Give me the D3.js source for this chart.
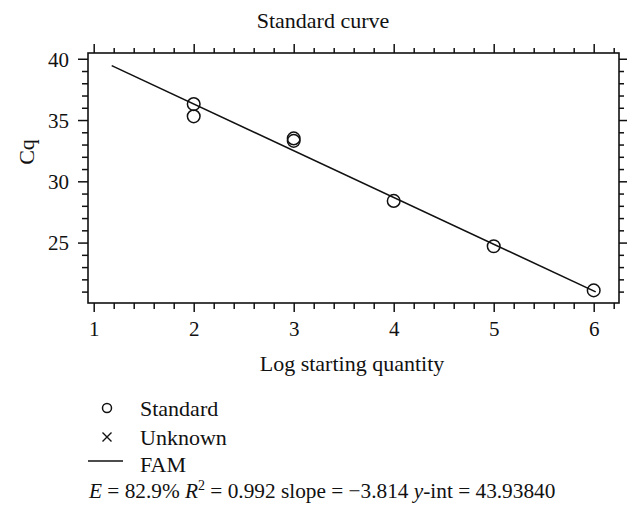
<!DOCTYPE html>
<html>
<head>
<meta charset="utf-8">
<script src="https://cdn.jsdelivr.net/npm/d3@7"></script>
<style>
  html, body { margin: 0; padding: 0; background: #fff; }
  svg { display: block; }
  text { font-family: "Liberation Serif", "Times New Roman", serif; fill: #111; }
</style>
</head>
<body>
<svg id="chart" width="642" height="524"></svg>
<script>
// ---- data ----
const chartTitle = "Standard curve";
const xLabel = "Log starting quantity";
const yLabel = "Cq";
const standardX = [2, 2, 3, 3, 4, 5, 6.0];
const standardY = [36.3, 35.3, 33.5, 33.3, 28.4, 24.7, 21.1];
const fitSlope = -3.814;
const fitIntercept = 43.93840;
const fitRangeX = [1.18, 6.02];
const xMajorTicks = [1, 2, 3, 4, 5, 6];
const yMajorTicks = [25, 30, 35, 40];
const legendLabels = ["Standard", "Unknown", "FAM"];
const statE = "82.9%";
const statR2 = "0.992";
const statSlope = "\u22123.814";
const statYint = "43.93840";

// ---- layout ----
const svg = d3.select("#chart");
const plot = { left: 88, right: 619, top: 53, bottom: 303 };
const x = d3.scaleLinear().domain([0.943, 6.253]).range([plot.left, plot.right]);
const y = d3.scaleLinear().domain([20.07, 40.47]).range([plot.bottom, plot.top]);

const xMinor = d3.range(1, 6.21, 0.2).map(v => +v.toFixed(2)).filter(v => !xMajorTicks.includes(v));
const yMinor = d3.range(21, 41, 1).filter(v => !yMajorTicks.includes(v));

function styleAxis(g) {
  g.select(".domain").remove();
  g.selectAll(".tick line").attr("stroke", "#111").attr("stroke-width", 1.5);
  g.selectAll(".tick text").remove();
}

// bottom axis
svg.append("g").attr("transform", `translate(0,${plot.bottom})`)
  .call(d3.axisBottom(x).tickValues(xMinor).tickSize(6)).call(styleAxis);
const xb = svg.append("g").attr("transform", `translate(0,${plot.bottom})`)
  .call(d3.axisBottom(x).tickValues(xMajorTicks).tickSize(9).tickFormat(d3.format("d")));
xb.select(".domain").remove();
xb.selectAll(".tick line").attr("stroke", "#111").attr("stroke-width", 1.5);
xb.selectAll(".tick text").attr("y", 0).attr("dy", "33px").attr("font-size", "21px")
  .style("font-family", "'Liberation Serif', serif").attr("fill", "#111");

// top axis
svg.append("g").attr("transform", `translate(0,${plot.top})`)
  .call(d3.axisTop(x).tickValues(xMinor).tickSize(5)).call(styleAxis);
svg.append("g").attr("transform", `translate(0,${plot.top})`)
  .call(d3.axisTop(x).tickValues(xMajorTicks).tickSize(9)).call(styleAxis);

// left axis
svg.append("g").attr("transform", `translate(${plot.left},0)`)
  .call(d3.axisLeft(y).tickValues(yMinor).tickSize(6)).call(styleAxis);
const yl = svg.append("g").attr("transform", `translate(${plot.left},0)`)
  .call(d3.axisLeft(y).tickValues(yMajorTicks).tickSize(10).tickFormat(d3.format("d")));
yl.select(".domain").remove();
yl.selectAll(".tick line").attr("stroke", "#111").attr("stroke-width", 1.5);
yl.selectAll(".tick text").attr("x", -19).attr("dy", "0.35em").attr("font-size", "21px")
  .style("font-family", "'Liberation Serif', serif").attr("fill", "#111");

// right axis
svg.append("g").attr("transform", `translate(${plot.right},0)`)
  .call(d3.axisRight(y).tickValues(yMinor).tickSize(5)).call(styleAxis);
svg.append("g").attr("transform", `translate(${plot.right},0)`)
  .call(d3.axisRight(y).tickValues(yMajorTicks).tickSize(8)).call(styleAxis);

// frame
svg.append("rect")
  .attr("x", plot.left).attr("y", plot.top)
  .attr("width", plot.right - plot.left).attr("height", plot.bottom - plot.top)
  .attr("fill", "none").attr("stroke", "#111").attr("stroke-width", 1.6);

// fit line
svg.append("line")
  .attr("x1", x(fitRangeX[0])).attr("y1", y(fitSlope * fitRangeX[0] + fitIntercept))
  .attr("x2", x(fitRangeX[1])).attr("y2", y(fitSlope * fitRangeX[1] + fitIntercept))
  .attr("stroke", "#111").attr("stroke-width", 1.6);

// points
svg.append("g").selectAll("circle")
  .data(standardX.map((v, i) => [v, standardY[i]]))
  .join("circle")
  .attr("cx", d => x(d[0])).attr("cy", d => y(d[1])).attr("r", 6.3)
  .attr("fill", "none").attr("stroke", "#111").attr("stroke-width", 1.5);

// titles
svg.append("text").attr("x", 323).attr("y", 28).attr("text-anchor", "middle")
  .attr("font-size", "22px").text(chartTitle);
svg.append("text").attr("x", 352).attr("y", 371).attr("text-anchor", "middle")
  .attr("font-size", "22px").text(xLabel);
svg.append("text").attr("transform", "translate(34,152) rotate(-90)").attr("text-anchor", "middle")
  .attr("font-size", "22px").text(yLabel);

// legend
const lg = svg.append("g");
const rows = [408, 437, 464];
lg.append("circle").attr("cx", 107).attr("cy", rows[0]).attr("r", 4.5)
  .attr("fill", "none").attr("stroke", "#111").attr("stroke-width", 1.5);
lg.append("path").attr("d", `M102.5,${rows[1]-4.5}L111.5,${rows[1]+4.5}M111.5,${rows[1]-4.5}L102.5,${rows[1]+4.5}`)
  .attr("stroke", "#111").attr("stroke-width", 1.4);
lg.append("line").attr("x1", 88).attr("x2", 123).attr("y1", rows[2] - 3).attr("y2", rows[2] - 3)
  .attr("stroke", "#111").attr("stroke-width", 1.5);
legendLabels.forEach((t, i) => {
  lg.append("text").attr("x", 140).attr("y", rows[i] + 8).attr("font-size", "22px").text(t);
});

// statistics line
const st = svg.append("text").attr("x", 89).attr("y", 498).attr("font-size", "21.3px");
st.append("tspan").attr("font-style", "italic").text("E");
st.append("tspan").text(" = " + statE + " ");
st.append("tspan").attr("font-style", "italic").text("R");
st.append("tspan").attr("font-size", "14px").attr("dy", "-8").text("2");
st.append("tspan").attr("dy", "8").text(" = " + statR2 + " slope = " + statSlope + " ");
st.append("tspan").attr("font-style", "italic").text("y");
st.append("tspan").text("-int = " + statYint);
</script>
</body>
</html>
